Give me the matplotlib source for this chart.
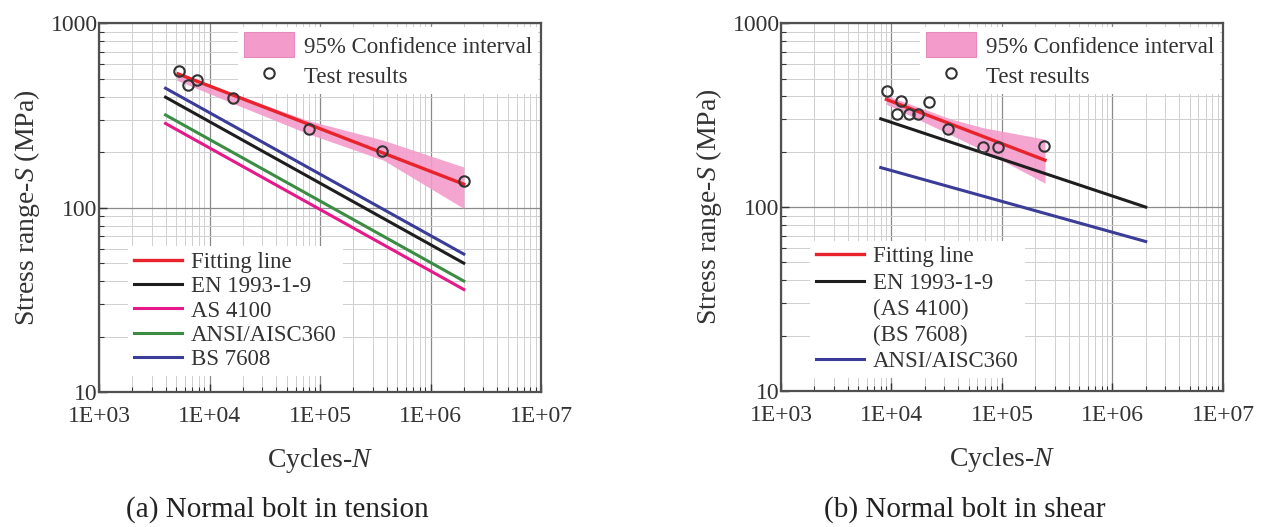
import numpy as np
import matplotlib
matplotlib.use("Agg")
import matplotlib.pyplot as plt
from matplotlib.patches import Patch
from matplotlib.lines import Line2D
from matplotlib.ticker import LogLocator, FuncFormatter, NullFormatter

plt.rcParams['font.family'] = ['Liberation Serif', 'DejaVu Serif']
plt.rcParams['mathtext.fontset'] = 'custom'
plt.rcParams['mathtext.rm'] = 'Liberation Serif'
plt.rcParams['mathtext.it'] = 'Liberation Serif:italic'

# (a) normal bolt in tension
a_test_N = [5300, 6400, 7700, 16400, 79000, 361000, 2.0e6]
a_test_S = [553, 462, 492, 394, 267, 204, 140]
a_fit_N = [5200, 2.0e6]
a_fit_S = [531, 134]
a_ci_N = [5050, 16400, 76000, 374000, 2.0e6]
a_ci_upper = [545, 416, 298, 232, 166]
a_ci_lower = [491, 367, 253, 181, 99]
a_code_N = [4000, 2.0e6]
a_en = [397, 50]
a_as = [286, 36]
a_aisc = [318, 40]
a_bs = [444, 56]

# (b) normal bolt in shear
b_test_N = [9100, 12200, 11200, 14500, 17400, 22000, 32200, 68000, 92500, 240000]
b_test_S = [429, 378, 322, 320, 320, 372, 266, 213, 212, 214]
b_fit_N = [9000, 245000]
b_fit_S = [385, 180]
b_ci_N = [9000, 17000, 34000, 68000, 245000]
b_ci_upper = [405, 352, 302, 270, 234]
b_ci_lower = [362, 302, 248, 203, 135]
b_code_N = [8000, 2.0e6]
b_en = [302, 100]
b_aisc = [164, 65]

C_FIT = '#e8232b'
C_CI = '#f39ccb'
C_EN = '#1e1e1e'
C_AS = '#e5198a'
C_AISC = '#3c8c44'
C_BS = '#3a3c98'

fig = plt.figure(figsize=(12.86, 5.27), dpi=100)
ax_a = fig.add_axes([0.077, 0.256, 0.3437, 0.700])
ax_b = fig.add_axes([0.6073, 0.258, 0.3437, 0.698])


def style_axes(ax):
    ax.set_xscale('log')
    ax.set_yscale('log')
    ax.set_xlim(1e3, 1e7)
    ax.set_ylim(10, 1000)
    ax.xaxis.set_major_locator(LogLocator(base=10, numticks=10))
    ax.xaxis.set_minor_locator(LogLocator(base=10, subs=np.arange(2, 10), numticks=10))
    ax.yaxis.set_minor_locator(LogLocator(base=10, subs=np.arange(2, 10), numticks=10))
    ax.xaxis.set_major_formatter(FuncFormatter(lambda v, p: '1E+%02d' % round(np.log10(v))))
    ax.yaxis.set_major_formatter(FuncFormatter(lambda v, p: '%d' % round(v)))
    ax.xaxis.set_minor_formatter(NullFormatter())
    ax.yaxis.set_minor_formatter(NullFormatter())
    ax.grid(which='major', color='#8a8a8a', lw=0.9)
    ax.grid(which='minor', color='#cfcfcf', lw=0.7)
    ax.set_axisbelow(True)
    ax.tick_params(which='both', direction='in', labelsize=17, colors='#333333')
    ax.tick_params(which='major', length=6, width=1)
    ax.tick_params(which='minor', length=3.5, width=0.8)
    ax.tick_params(axis='x', pad=10)
    ax.tick_params(axis='y', pad=1)
    for s in ax.spines.values():
        s.set_color('#505050')
        s.set_linewidth(1.6)
    ax.set_xlabel('Cycles-$\\it{N}$', fontsize=20, color='#333333', labelpad=14)
    ax.set_ylabel('Stress range-$\\it{S}$ (MPa)', fontsize=20, color='#333333', labelpad=6)


def top_legend(ax):
    handles = [Patch(facecolor=C_CI, edgecolor='#e58bbb', lw=0.8),
               Line2D([], [], ls='none', marker='o', ms=7.5, mfc='white', mec='#333333', mew=1.5)]
    leg = ax.legend(handles, ['95% Confidence interval', 'Test results'], loc='upper right',
                    fontsize=16.5, frameon=True, facecolor='white', edgecolor='none', framealpha=1,
                    fancybox=False, borderaxespad=0.15, borderpad=0.25, labelspacing=0.25,
                    handlelength=2.2, handleheight=1.3, handletextpad=0.4)
    for t in leg.get_texts():
        t.set_color('#333333')
    ax.add_artist(leg)


for ax in (ax_a, ax_b):
    style_axes(ax)

# panel (a)
ax_a.fill_between(a_ci_N, a_ci_lower, a_ci_upper, color=C_CI, alpha=0.9, lw=0, zorder=2)
l_en, = ax_a.plot(a_code_N, a_en, color=C_EN, lw=2.2, zorder=3)
l_as, = ax_a.plot(a_code_N, a_as, color=C_AS, lw=2.2, zorder=3)
l_aisc, = ax_a.plot(a_code_N, a_aisc, color=C_AISC, lw=2.2, zorder=3)
l_bs, = ax_a.plot(a_code_N, a_bs, color=C_BS, lw=2.2, zorder=3)
l_fit, = ax_a.plot(a_fit_N, a_fit_S, color=C_FIT, lw=2.4, zorder=4)
ax_a.plot(a_test_N, a_test_S, ls='none', marker='o', ms=7.5, mfc='none', mec='#333333', mew=1.5, zorder=5)
top_legend(ax_a)
leg = ax_a.legend([l_fit, l_en, l_as, l_aisc, l_bs],
                  ['Fitting line', 'EN 1993-1-9', 'AS 4100', 'ANSI/AISC360', 'BS 7608'],
                  loc='lower left', bbox_to_anchor=(0.04, 0.012), fontsize=16.5, frameon=True,
                  facecolor='white', edgecolor='none', framealpha=1, fancybox=False,
                  borderpad=0.25, labelspacing=0.15, handlelength=2.1, handletextpad=0.4)
for t in leg.get_texts():
    t.set_color('#333333')

# panel (b)
ax_b.fill_between(b_ci_N, b_ci_lower, b_ci_upper, color=C_CI, alpha=0.9, lw=0, zorder=2)
m_en, = ax_b.plot(b_code_N, b_en, color=C_EN, lw=2.2, zorder=3)
m_aisc, = ax_b.plot(b_code_N, b_aisc, color=C_BS, lw=2.2, zorder=3)
m_fit, = ax_b.plot(b_fit_N, b_fit_S, color=C_FIT, lw=2.4, zorder=4)
ax_b.plot(b_test_N, b_test_S, ls='none', marker='o', ms=7.5, mfc='none', mec='#333333', mew=1.5, zorder=5)
top_legend(ax_b)
blank = Line2D([], [], color='none')
leg = ax_b.legend([m_fit, m_en, blank, blank, m_aisc],
                  ['Fitting line', 'EN 1993-1-9', '(AS 4100)', '(BS 7608)', 'ANSI/AISC360'],
                  loc='lower left', bbox_to_anchor=(0.04, 0.005), fontsize=16.5, frameon=True,
                  facecolor='white', edgecolor='none', framealpha=1, fancybox=False,
                  borderpad=0.25, labelspacing=0.22, handlelength=2.1, handletextpad=0.4)
for t in leg.get_texts():
    t.set_color('#333333')

fig.text(0.216, 0.034, '(a) Normal bolt in tension', fontsize=21, ha='center', va='center', color='#222222')
fig.text(0.750, 0.034, '(b) Normal bolt in shear', fontsize=21, ha='center', va='center', color='#222222')

fig.savefig('out.png', dpi=100)
